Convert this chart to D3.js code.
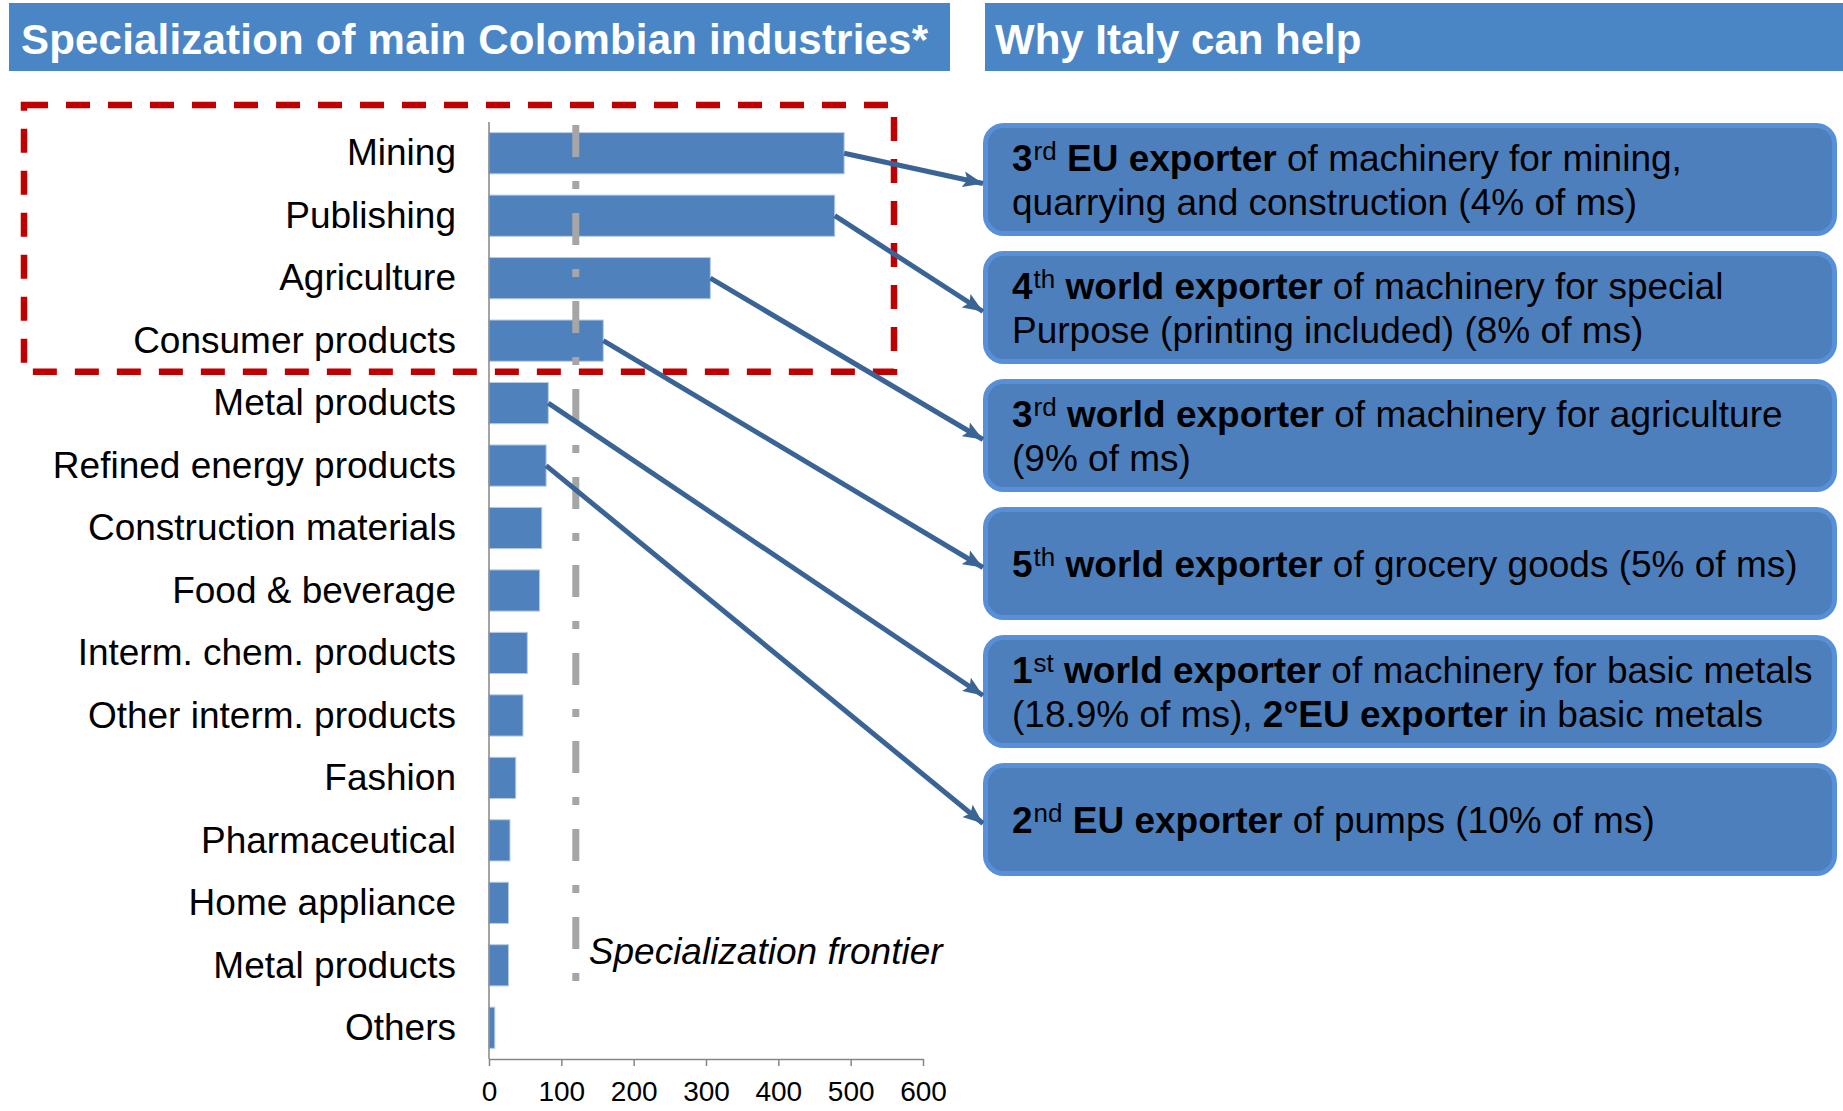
<!DOCTYPE html>
<html>
<head>
<meta charset="utf-8">
<script src="https://cdn.jsdelivr.net/npm/d3@7"></script>
<style>
  html, body { margin: 0; padding: 0; background: #ffffff; }
  svg { display: block; font-family: "Liberation Sans", Arial, sans-serif; }
</style>
</head>
<body>
<svg id="chart" width="1843" height="1111"></svg>
<script>
// ---------------- data ----------------
const leftTitle = "Specialization of main Colombian industries*";
const rightTitle = "Why Italy can help";
const categories = ["Mining", "Publishing", "Agriculture", "Consumer products", "Metal products",
  "Refined energy products", "Construction materials", "Food & beverage", "Interm. chem. products",
  "Other interm. products", "Fashion", "Pharmaceutical", "Home appliance", "Metal products", "Others"];
const values = [491, 478, 306, 158, 82, 79, 73, 70, 53, 47, 37, 29, 27, 27, 8];
const xTicks = [0, 100, 200, 300, 400, 500, 600];
const frontierValue = 120;
const frontierLabel = "Specialization frontier";
const highlightedCount = 4;
// which category each "why Italy" box is linked to
const linkedCategories = [0, 1, 2, 3, 4, 5];
// box texts: lines of segments  [text, bold, superscript]
const boxTexts = [
  [[["3", 1, 0], ["rd", 0, 1], [" EU exporter", 1, 0], [" of machinery for mining,", 0, 0]],
   [["quarrying and construction (4% of ms)", 0, 0]]],
  [[["4", 1, 0], ["th", 0, 1], [" world exporter", 1, 0], [" of machinery for special", 0, 0]],
   [["Purpose (printing included) (8% of ms)", 0, 0]]],
  [[["3", 1, 0], ["rd", 0, 1], [" world exporter", 1, 0], [" of machinery for agriculture", 0, 0]],
   [["(9% of ms)", 0, 0]]],
  [[["5", 1, 0], ["th", 0, 1], [" world exporter", 1, 0], [" of grocery goods (5% of ms)", 0, 0]]],
  [[["1", 1, 0], ["st", 0, 1], [" world exporter", 1, 0], [" of machinery for basic metals", 0, 0]],
   [["(18.9% of ms), ", 0, 0], ["2°EU exporter", 1, 0], [" in basic metals", 0, 0]]],
  [[["2", 1, 0], ["nd", 0, 1], [" EU exporter", 1, 0], [" of pumps (10% of ms)", 0, 0]]]
];

// ---------------- layout ----------------
const svg = d3.select("#chart");
const headerBlue = "#4a86c5";
const barBlue = "#4f81bd";
const linkBlue = "#3a6496";

// headers
const headers = [
  { x: 9, w: 941, text: leftTitle, tx: 21, len: 907 },
  { x: 985, w: 858, text: rightTitle, tx: 995, len: null }
];
svg.selectAll("rect.header").data(headers).join("rect")
  .attr("class", "header")
  .attr("x", d => d.x).attr("y", 3).attr("width", d => d.w).attr("height", 68)
  .attr("fill", headerBlue);
svg.selectAll("text.header").data(headers).join("text")
  .attr("class", "header")
  .attr("x", d => d.tx).attr("y", 54)
  .attr("fill", "#ffffff").attr("font-weight", "bold").attr("font-size", 42)
  .each(function (d) { if (d.len) d3.select(this).attr("textLength", d.len).attr("lengthAdjust", "spacing"); })
  .text(d => d.text);

// scales
const x = d3.scaleLinear().domain([0, 600]).range([489, 923]);
const y = d3.scaleBand().domain(d3.range(categories.length)).range([122, 1059])
  .paddingInner(0.34).paddingOuter(0.17);
const axisY = 1059;

// bars
svg.append("g").selectAll("rect").data(values).join("rect")
  .attr("x", x(0))
  .attr("y", (d, i) => y(i))
  .attr("width", d => x(d) - x(0))
  .attr("height", y.bandwidth())
  .attr("fill", barBlue)
  .attr("stroke", "#b8cce4").attr("stroke-width", 1);

// category labels
svg.append("g").selectAll("text").data(categories).join("text")
  .attr("x", x(0) - 33)
  .attr("y", (d, i) => y(i) + y.bandwidth() / 2)
  .attr("dy", "0.33em")
  .attr("text-anchor", "end")
  .attr("font-size", 37)
  .attr("fill", "#000")
  .text(d => d);

// y axis line
svg.append("line")
  .attr("x1", x(0)).attr("x2", x(0))
  .attr("y1", y.range()[0]).attr("y2", axisY)
  .attr("stroke", "#868686").attr("stroke-width", 1.5);

// x axis
const xAxis = d3.axisBottom(x).tickValues(xTicks).tickSize(7).tickSizeOuter(0).tickPadding(15);
const gx = svg.append("g").attr("transform", `translate(0,${axisY})`).call(xAxis);
gx.select(".domain").attr("stroke", "#868686").attr("stroke-width", 1.5);
gx.selectAll(".tick line").attr("stroke", "#868686").attr("stroke-width", 1.5);
gx.selectAll(".tick text")
  .attr("font-family", "\"Liberation Sans\", Arial, sans-serif")
  .attr("font-size", 28).attr("fill", "#000");

// specialization frontier
svg.append("line")
  .attr("x1", x(frontierValue)).attr("x2", x(frontierValue))
  .attr("y1", y.range()[0] + 3).attr("y2", y.range()[0] + 859)
  .attr("stroke", "#a6a6a6").attr("stroke-width", 7)
  .attr("stroke-dasharray", "32,24,8,24");
svg.append("text")
  .attr("x", x(frontierValue) + 13).attr("y", 964)
  .attr("font-size", 37).attr("font-style", "italic").attr("fill", "#000")
  .text(frontierLabel);

// red dashed highlight box
const lastHi = highlightedCount - 1;
const redBottom = (y(lastHi) + y.bandwidth() + y(lastHi + 1)) / 2;
svg.append("rect")
  .attr("x", 24).attr("y", 105)
  .attr("width", 894 - 24).attr("height", redBottom - 105)
  .attr("fill", "none")
  .attr("stroke", "#c00000").attr("stroke-width", 6.5)
  .attr("stroke-dasharray", "24,18");

// "why Italy" boxes
const boxX = 983, boxW = 854, boxTop = 123, boxStep = 128, boxH = 113;
const boxes = svg.append("g").selectAll("g").data(boxTexts).join("g");
boxes.append("rect")
  .attr("x", boxX + 2.5).attr("y", (d, i) => boxTop + i * boxStep + 2.5)
  .attr("width", boxW - 5).attr("height", boxH - 5)
  .attr("rx", 18).attr("ry", 18)
  .attr("fill", "#4c7fbc").attr("stroke", "#5790d8").attr("stroke-width", 5);

const lineH = 44;
boxes.each(function (lines, i) {
  const g = d3.select(this);
  const cy = boxTop + i * boxStep + boxH / 2;
  lines.forEach((segs, li) => {
    const by = cy + 13 + (li - (lines.length - 1) / 2) * lineH;
    const t = g.append("text").attr("x", boxX + 29).attr("y", by)
      .attr("font-size", 37).attr("fill", "#000");
    segs.forEach((s, si) => {
      const ts = t.append("tspan").text(s[0]).attr("font-weight", s[1] ? "bold" : "normal");
      if (s[2]) {
        ts.attr("font-size", 26).attr("dy", -11).attr("dx", 1);
      } else if (si > 0 && segs[si - 1][2]) {
        ts.attr("dy", 11);
      }
    });
  });
});

// connector arrows
const defs = svg.append("defs");
defs.append("marker")
  .attr("id", "arrow")
  .attr("markerUnits", "userSpaceOnUse")
  .attr("viewBox", "0 0 20 16")
  .attr("refX", 20).attr("refY", 8)
  .attr("markerWidth", 20).attr("markerHeight", 16)
  .attr("orient", "auto")
  .append("path").attr("d", "M0,0 L20,8 L0,16 L4,8 Z").attr("fill", linkBlue);

svg.append("g").selectAll("line").data(linkedCategories).join("line")
  .attr("x1", d => x(values[d]))
  .attr("y1", d => y(d) + y.bandwidth() / 2)
  .attr("x2", boxX)
  .attr("y2", (d, i) => boxTop + i * boxStep + boxH / 2 + 4)
  .attr("stroke", linkBlue).attr("stroke-width", 5)
  .attr("marker-end", "url(#arrow)");
</script>
</body>
</html>
